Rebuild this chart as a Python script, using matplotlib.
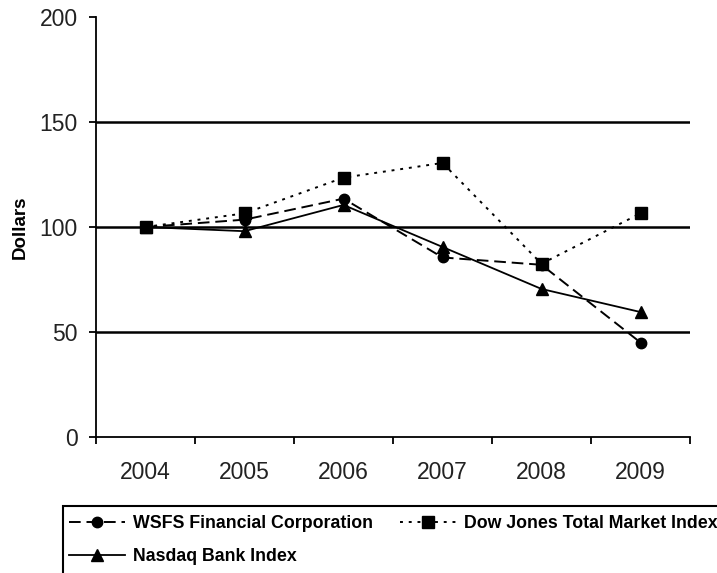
import matplotlib
matplotlib.use("Agg")
import matplotlib.pyplot as plt
import matplotlib.patches as mpatches

plt.rcParams["font.family"] = ["Liberation Sans", "DejaVu Sans"]

# ── data ──
years = ["2004", "2005", "2006", "2007", "2008", "2009"]
wsfs = [100, 103.5, 113.5, 85.5, 82, 45]
dow_jones = [100, 106.5, 123.5, 130.5, 82.5, 106.5]
nasdaq_bank = [100, 98, 110.5, 90.5, 70.5, 59.5]

fig = plt.figure(figsize=(7.17, 5.73), dpi=100)
ax = fig.add_axes([96 / 717, 1 - 437 / 573, 594 / 717, 420 / 573])

x = list(range(len(years)))
l_wsfs, = ax.plot(x, wsfs, color="black", lw=1.4, ls=(0, (6, 3)),
                  marker="o", ms=7.5, label="WSFS Financial Corporation")
l_dow, = ax.plot(x, dow_jones, color="black", lw=1.4, ls=(0, (1.5, 3)),
                 marker="s", ms=8, label="Dow Jones Total Market Index")
l_nas, = ax.plot(x, nasdaq_bank, color="black", lw=1.3, ls="-",
                 marker="^", ms=8.5, label="Nasdaq Bank Index")

for yv in (50, 100, 150):
    ax.axhline(yv, color="black", lw=1.8, zorder=0)

ax.set_xlim(-0.5, len(years) - 0.5)
ax.set_ylim(0, 200)
ax.set_yticks([0, 50, 100, 150, 200])
ax.tick_params(axis="y", direction="out", length=5, width=1.3, labelsize=16.5,
               pad=8, labelcolor="#222222")
ax.set_xticks(x)
ax.set_xticklabels(years)
ax.set_xticks([i - 0.5 for i in range(len(years) + 1)], minor=True)
ax.tick_params(axis="x", which="major", length=0, labelsize=16.5, pad=17,
               labelcolor="#222222")
ax.tick_params(axis="x", which="minor", direction="out", length=5, width=1.3)
for s in ("top", "right"):
    ax.spines[s].set_visible(False)
for s in ("left", "bottom"):
    ax.spines[s].set_linewidth(1.3)
ax.set_ylabel("Dollars", fontsize=13.5, fontweight="bold", labelpad=8)

# legend box (cut off at right and bottom like the reference)
fig.patches.append(mpatches.Rectangle((63 / 717, -0.05), 0.99, 1 - 506 / 573 + 0.05,
                                      transform=fig.transFigure, fill=False,
                                      edgecolor="black", lw=1.5))
fig.legend(handles=[l_wsfs, l_nas, l_dow], ncol=2, frameon=False,
           loc="upper left", bbox_to_anchor=(69 / 717, 1 - 515 / 573),
           prop={"weight": "bold", "size": 12.8},
           handlelength=3.15, handletextpad=0.45, columnspacing=1.5,
           labelspacing=0.9, borderpad=0, borderaxespad=0)

fig.savefig("out.png", dpi=100)
